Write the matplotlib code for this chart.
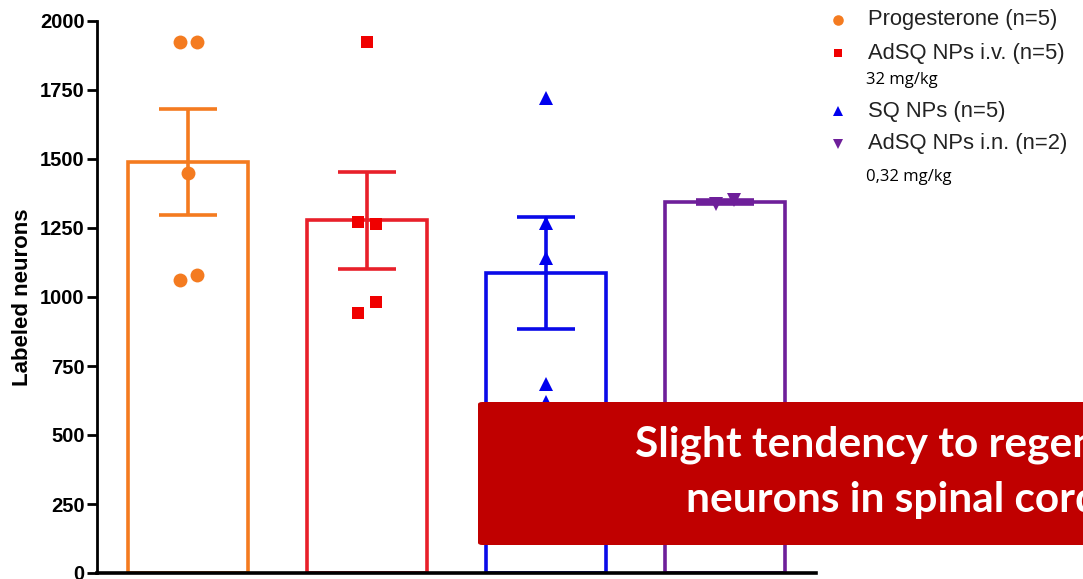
import numpy as np
import matplotlib.pyplot as plt
from matplotlib.lines import Line2D
from matplotlib.patches import FancyBboxPatch

# neuron counts per animal, one list per treatment group
groups = ['Progesterone (n=5)', 'AdSQ NPs i.v. (n=5)', 'SQ NPs (n=5)', 'AdSQ NPs i.n. (n=2)']
doses = ['32 mg/kg', None, None, '0,32 mg/kg']
progesterone = [1925, 1925, 1450, 1062, 1080]
adsq_iv = [1925, 1272, 1264, 942, 983]
sq_nps = [1721, 1268, 1141, 685, 620]
adsq_in = [1338, 1350]
yticks = [0, 250, 500, 750, 1000, 1250, 1500, 1750, 2000]

data = [progesterone, adsq_iv, sq_nps, adsq_in]
bar_colors = ['#F47B20', '#E8202A', '#0A0AE8', '#6E1F9A']
dot_colors = ['#F47B20', '#F00000', '#0000EE', '#6E1F9A']
markers = ['o', 's', '^', 'v']
msizes = [10, 8.5, 9.5, 9.5]
# horizontal spread of the dots inside each bar
jitter = [[-0.047, 0.047, 0, -0.047, 0.047],
          [0, -0.05, 0.05, -0.05, 0.05],
          [0, 0, 0, 0, 0],
          [-0.05, 0.05]]

plt.rcParams['font.family'] = ['Liberation Sans', 'DejaVu Sans']

fig = plt.figure(figsize=(10.83, 5.79), dpi=100)
ax = fig.add_axes([97 / 1083, 6 / 579, 719 / 1083, 552 / 579])

for i, vals in enumerate(data):
    vals = np.array(vals, dtype=float)
    mean = vals.mean()
    sem = vals.std(ddof=1) / np.sqrt(len(vals))
    ax.bar(i, mean, width=0.67, facecolor='white', edgecolor=bar_colors[i],
           linewidth=2.6, zorder=1)
    ax.errorbar(i, mean, yerr=sem, color=bar_colors[i], elinewidth=2.6,
                capthick=2.6, capsize=21, zorder=2)
    ax.plot(i + np.array(jitter[i]), vals, linestyle='none', marker=markers[i],
            ms=msizes[i], color=dot_colors[i], markeredgewidth=0, zorder=3)

ax.set_xlim(-0.51, 3.51)
ax.set_ylim(0, 2000)
ax.set_yticks(yticks)
ax.set_xticks([])
ax.spines['top'].set_visible(False)
ax.spines['right'].set_visible(False)
ax.spines['left'].set_linewidth(2)
ax.spines['bottom'].set_linewidth(2.6)
ax.tick_params(axis='y', length=7, width=2, labelsize=14.5, pad=2)
for lbl in ax.get_yticklabels():
    lbl.set_fontweight('bold')
ax.set_ylabel('Labeled neurons', fontsize=16, fontweight='bold', labelpad=5)

# legend drawn by hand so the dose notes can sit under their entries
rows = [20, 53, 111, 144]
dose_rows = [80, None, None, 177]
for i, name in enumerate(groups):
    y = 1 - rows[i] / 579
    fig.add_artist(Line2D([838 / 1083], [y], marker=markers[i], ms=msizes[i] * 0.76,
                          color=dot_colors[i], markeredgewidth=0, linestyle='none',
                          transform=fig.transFigure))
    fig.text(868 / 1083, y, name, fontsize=15.8, va='center', ha='left', color='#222222')
    if doses[i]:
        fig.text(866 / 1083, 1 - dose_rows[i] / 579, doses[i], fontsize=12,
                 family='Open Sans', va='center', ha='left', color='black')

# highlighted conclusion box over the lower right
box = FancyBboxPatch((478 / 1083, 34 / 579), 700 / 1083, 143 / 579,
                     boxstyle='round,pad=0,rounding_size=0.004',
                     transform=fig.transFigure, facecolor='#C00000',
                     edgecolor='none', zorder=10)
fig.add_artist(box)
fig.text(635 / 1083, 122 / 579, 'Slight tendency to regenerate', color='white',
         fontsize=30.5, fontweight='bold', family='Lato', ha='left', va='baseline', zorder=11)
fig.text(686 / 1083, 67 / 579, 'neurons in spinal cord', color='white',
         fontsize=30.5, fontweight='bold', family='Lato', ha='left', va='baseline', zorder=11)

fig.savefig('out.png', dpi=100)
